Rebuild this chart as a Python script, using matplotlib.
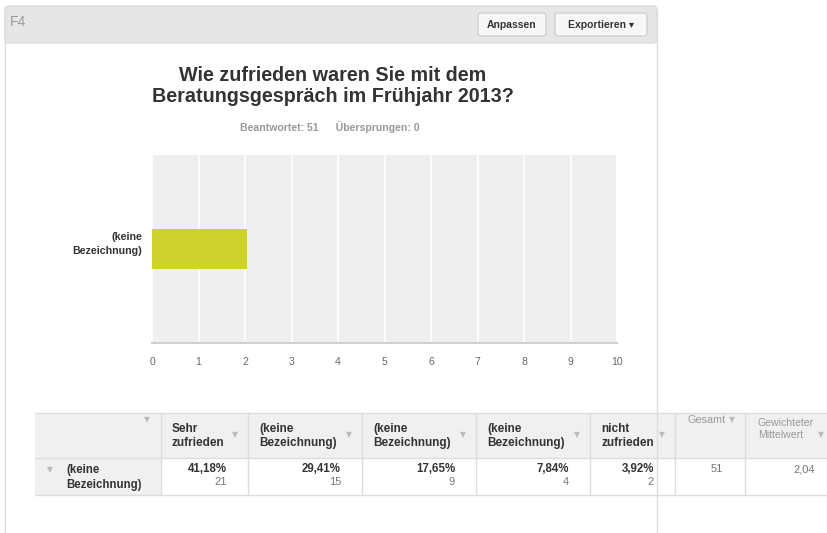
import matplotlib.pyplot as plt
from matplotlib.patches import Rectangle, FancyBboxPatch

plt.rcParams['font.family'] = ['Liberation Sans', 'DejaVu Sans']

# data
question = 'Wie zufrieden waren Sie mit dem\nBeratungsgespräch im Frühjahr 2013?'
answered = 51
skipped = 0
row_label = '(keine\nBezeichnung)'
columns = ['Sehr\nzufrieden', '(keine\nBezeichnung)', '(keine\nBezeichnung)',
           '(keine\nBezeichnung)', 'nicht\nzufrieden']
percents = ['41,18%', '29,41%', '17,65%', '7,84%', '3,92%']
counts = [21, 15, 9, 4, 2]
total = 51
weighted_mean = 2.04
x_ticks = list(range(0, 11))

fig = plt.figure(figsize=(8.27, 5.33), dpi=100)

# background layer in pixel coords
bg = fig.add_axes([0, 0, 1, 1], zorder=0)
bg.set_xlim(0, 827)
bg.set_ylim(533, 0)
bg.axis('off')

# card border
bg.plot([5, 5], [10, 533], color='#dddddd', lw=1)
bg.plot([657, 657], [10, 533], color='#dddddd', lw=1)
bg.add_patch(FancyBboxPatch((5, 6), 652, 37, boxstyle='round,pad=0,rounding_size=4',
                            fc='#e6e6e6', ec='#dddddd', lw=1))
bg.text(10, 21.5, 'F4', fontsize=10, color='#999999', va='center')

# buttons
for x0, w, label in [(478, 68, 'Anpassen'), (555, 92, 'Exportieren ▾')]:
    bg.add_patch(FancyBboxPatch((x0, 13), w, 23, boxstyle='round,pad=0,rounding_size=3',
                                fc='#f7f7f7', ec='#c8c8c8', lw=0.8))
    bg.text(x0 + w / 2, 25, label, fontsize=7.5, color='#333333', ha='center',
            va='center', fontweight='bold')

# title and subtitle
bg.text(333, 86, question, fontsize=14.2, fontweight='bold', color='#333333',
        ha='center', va='center', linespacing=1.15)
bg.text(330, 127, f'Beantwortet: {answered}      Übersprungen: {skipped}', fontsize=7.6,
        fontweight='bold', color='#999999', ha='center', va='center')

# chart
ax = fig.add_axes([152 / 827, 1 - 343 / 533, 465 / 827, 188 / 533], zorder=1)
ax.set_facecolor('#efefef')
ax.barh([0], [weighted_mean], height=0.43, color='#cdd22c', zorder=3)
ax.set_xlim(0, 10)
ax.set_ylim(-1, 1)
ax.set_xticks(x_ticks)
ax.grid(axis='x', color='white', lw=1.2, zorder=1)
ax.set_axisbelow(True)
for s in ['top', 'right', 'left']:
    ax.spines[s].set_visible(False)
ax.spines['bottom'].set_color('#d0d0d0')
ax.spines['bottom'].set_linewidth(1.5)
ax.tick_params(axis='x', length=0, pad=10, labelsize=7.5, labelcolor='#666666')
ax.set_yticks([])
# category label, slightly above bar centre like the original
bg.text(142, 244.5, row_label, fontsize=7.7, fontweight='bold', color='#333333',
        ha='right', va='center', multialignment='right', linespacing=1.5)

# table
edges = [35, 161, 248, 362, 476, 590, 675, 745, 827]
top, mid, bot = 413, 458, 495
line = '#dddddd'
bg.add_patch(Rectangle((35, top), 792, mid - top, fc='#f0f0f0', ec='none'))
bg.add_patch(Rectangle((35, mid), 126, bot - mid, fc='#f0f0f0', ec='none'))
bg.add_patch(Rectangle((161, mid), 666, bot - mid, fc='white', ec='none'))
for y in [top, mid, bot]:
    bg.plot([35, 827], [y, y], color=line, lw=1)
for x in edges[1:-1]:
    bg.plot([x, x], [top, bot], color=line, lw=1)

arrow = dict(fontsize=5.5, color='#bbbbbb', va='center', family=['DejaVu Sans'])
bg.text(147, 420, '▼', ha='center', **arrow)
for i, name in enumerate(columns):
    left, right = edges[i + 1], edges[i + 2]
    bg.text(left + 11, 436, name, fontsize=8.5, fontweight='bold', color='#333333',
            va='center', linespacing=1.3)
    bg.text(right - 13, 435, '▼', ha='center', **arrow)
    bg.text(right - 21, 469.5, percents[i], fontsize=8.3, fontweight='bold',
            color='#333333', ha='right', va='center')
    bg.text(right - 21, 482, str(counts[i]), fontsize=8, color='#777777',
            ha='right', va='center')

bg.text(687, 420, 'Gesamt', fontsize=7.8, color='#999999', va='center')
bg.text(732, 420, '▼', ha='center', **arrow)
bg.text(758, 429, 'Gewichteter\nMittelwert', fontsize=7.6, color='#999999',
        va='center', linespacing=1.3)
bg.text(821, 435, '▼', ha='center', **arrow)
bg.text(717, 469.5, str(total), fontsize=8, color='#777777', ha='center', va='center')
bg.text(815, 469.5, f'{weighted_mean:.2f}'.replace('.', ','), fontsize=8,
        color='#777777', ha='right', va='center')

bg.text(50, 470, '▼', ha='center', **arrow)
bg.text(66, 477.5, row_label, fontsize=8.3, fontweight='bold', color='#333333',
        va='center', linespacing=1.25)

fig.savefig('out.png', dpi=100)
